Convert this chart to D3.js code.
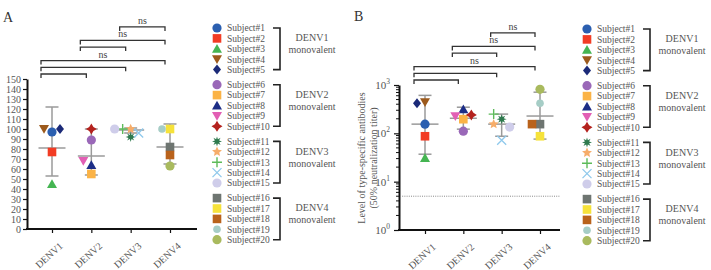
<!DOCTYPE html>
<html>
<head>
<meta charset="utf-8">
<script src="https://cdn.jsdelivr.net/npm/d3@7"></script>
<style>
  body { margin: 0; background: #fff; }
  svg text { font-family: "Liberation Serif", "DejaVu Serif", serif; }
</style>
</head>
<body>
<svg id="chart" width="711" height="270"></svg>
<script>
// ---- data ----
var groups = ['DENV1', 'DENV2', 'DENV3', 'DENV4'];
var subjects = d3.range(1, 21).map(i => 'Subject#' + i);
// panel A: % neutralization, one value per subject (subjects 1-5 -> DENV1, 6-10 -> DENV2 ...)
var neutPct = [97, 77, 45, 100, 100, 89, 55, 64, 68, 100, 92, 100, 100, 96, 100, 82, 100, 74, 100, 63];
var pctMean = [81, 73, 99, 82];
var pctLow = [53, 54, 96, 65];
var pctHigh = [122, 100, 101, 105];
// panel B: type-specific titer (NT50)
var titer = [155, 87, 31, 440, 420, 111, 196, 316, 227, 240, 196, 155, 250, 72, 135, 155, 87, 155, 420, 815];
var titerMean = [155, 205, 155, 228];
var titerLow = [37, 122, 87, 76];
var titerHigh = [610, 347, 250, 710];
var detectLimit = 5;
var pctTicks = d3.range(0, 151, 10);
var titerTicks = [1, 10, 100, 1000];
// pairwise comparisons and their labels
var comparisons = [[0, 1], [0, 2], [0, 3], [1, 2], [1, 3], [2, 3]];
var compLabels = ['', '', 'ns', '', 'ns', 'ns'];
var legendGroups = ['DENV1', 'DENV2', 'DENV3', 'DENV4'];

// ---- styles ----
var colors = ['#2b5fb0', '#f23c24', '#45b552', '#9c5a1c', '#1b2a78',
  '#9a68b8', '#fbb346', '#1c2d86', '#e25fb4', '#b4221e',
  '#2f7a4e', '#f6ad6a', '#5dbb5a', '#8fc9ec', '#cfcdea',
  '#6e7571', '#f6e23a', '#b9621b', '#a6cdc6', '#a9ba5e'];
var shapes = ['circle', 'square', 'triUp', 'triDown', 'diamond',
  'circle', 'square', 'triUp', 'triDown', 'star4',
  'star8', 'star5', 'plus', 'times', 'circle',
  'square', 'square', 'square', 'circle', 'circle'];

var svg = d3.select('#chart');

function star(points, r, ri) {
  var pts = [];
  for (var k = 0; k < points * 2; k++) {
    var a = Math.PI * k / points - Math.PI / 2;
    var rr = k % 2 ? ri : r;
    pts.push([Math.cos(a) * rr, Math.sin(a) * rr]);
  }
  return 'M' + pts.join('L') + 'Z';
}

function addMarker(sel, i, cx, cy) {
  var s = shapes[i], c = colors[i];
  var m;
  if (s == 'circle') {
    m = sel.append('circle').attr('r', i == 18 ? 3.8 : 4.6).attr('fill', c);
  } else if (s == 'square') {
    m = sel.append('rect').attr('x', -4.3).attr('y', -4.3).attr('width', 8.6).attr('height', 8.6).attr('fill', c);
  } else if (s == 'triUp') {
    m = sel.append('path').attr('d', 'M0,-4.8L5,4L-5,4Z').attr('fill', c);
  } else if (s == 'triDown') {
    m = sel.append('path').attr('d', 'M0,4.8L5,-4L-5,-4Z').attr('fill', c);
  } else if (s == 'diamond') {
    m = sel.append('path').attr('d', 'M0,-5L4,0L0,5L-4,0Z').attr('fill', c);
  } else if (s == 'star4') {
    m = sel.append('path').attr('d', star(4, 5.5, 3)).attr('fill', c);
  } else if (s == 'star8') {
    m = sel.append('path').attr('d', star(8, 5, 2.3)).attr('fill', c);
  } else if (s == 'star5') {
    m = sel.append('path').attr('d', star(5, 5.2, 2.4)).attr('fill', c);
  } else if (s == 'plus') {
    m = sel.append('path').attr('d', 'M-5,0H5M0,-5V5').attr('stroke', c).attr('stroke-width', 1.4).attr('fill', 'none');
  } else {
    m = sel.append('path').attr('d', 'M-4.5,-4.5L4.5,4.5M4.5,-4.5L-4.5,4.5').attr('stroke', c).attr('stroke-width', 1.3).attr('fill', 'none');
  }
  m.attr('transform', 'translate(' + [cx, cy] + ')');
}

// keep markers of one column from sitting on top of each other
function dodge(idx, vals, y, xc, step) {
  var placed = [];
  idx.forEach(i => {
    var yy = y(vals[i]);
    var offs = [0, -1, 1, -2, 2];
    for (var k = 0; k < offs.length; k++) {
      var xx = xc + offs[k] * step;
      if (!placed.some(p => Math.abs(p.y - yy) < 8 && Math.abs(p.x - xx) < 7)) {
        placed.push({ i: i, x: xx, y: yy });
        break;
      }
    }
  });
  return placed;
}

function drawPanel(p) {
  var g = svg.append('g');
  var x = d3.scalePoint().domain(groups).range(p.xRange);
  var y = p.y;
  var bottom = y.range()[0], top = y.range()[1];

  g.append('text').text(p.letter)
    .attr('x', p.letterPos[0]).attr('y', p.letterPos[1])
    .attr('font-size', 14).attr('fill', '#333');

  // y axis
  var yAxis = g.append('g')
    .attr('transform', 'translate(' + p.axisX + ',0)')
    .call(p.yAxis)
    .call(a => {
      a.select('.domain').attr('stroke', '#111').attr('stroke-width', 2);
      a.selectAll('.tick line').attr('stroke', '#111').attr('stroke-width', 1.2);
      a.selectAll('.tick text').attr('fill', '#555').attr('font-size', p.log ? 11 : 10)
        .attr('font-family', '"Liberation Serif", serif');
    });
  if (p.log) {
    yAxis.selectAll('.tick text').each(function(d) {
      var t = d3.select(this).text('');
      t.append('tspan').text('10');
      t.append('tspan').text(Math.round(Math.log10(d))).attr('dy', -5).attr('font-size', 7.5);
    });
    var minor = [];
    titerTicks.slice(0, -1).forEach(d => d3.range(2, 10).forEach(m => minor.push(d * m)));
    g.append('g').selectAll('line').data(minor).enter().append('line')
      .attr('x1', p.axisX - 3).attr('x2', p.axisX)
      .attr('y1', d => y(d)).attr('y2', d => y(d))
      .attr('stroke', '#111').attr('stroke-width', 1);
    g.append('line')
      .attr('x1', p.axisX + 1).attr('x2', p.xEnd)
      .attr('y1', y(detectLimit)).attr('y2', y(detectLimit))
      .attr('stroke', '#888').attr('stroke-width', 1).attr('stroke-dasharray', '1,1.2');
    var tt = g.append('text')
      .attr('transform', 'translate(' + p.titlePos + ') rotate(-90)')
      .attr('text-anchor', 'middle').attr('fill', '#555').attr('font-size', 10);
    tt.append('tspan').attr('x', 0).attr('dy', 0).text('Level of type-specific antibodies');
    tt.append('tspan').attr('x', 0).attr('dy', 11.5).text('(50% neutralization titer)');
  }

  // x axis
  g.append('g')
    .attr('transform', 'translate(0,' + bottom + ')')
    .call(d3.axisBottom(x).tickSize(4).tickSizeOuter(0))
    .call(a => {
      a.select('.domain').remove();
      a.selectAll('.tick line').attr('stroke', '#111').attr('stroke-width', 1.2);
      a.selectAll('.tick text')
        .attr('text-anchor', 'end')
        .attr('font-size', 10).attr('fill', '#555')
        .attr('font-family', '"Liberation Serif", serif')
        .attr('dy', '0.35em')
        .attr('transform', 'translate(4,10) rotate(-42)');
    });
  g.append('line')
    .attr('x1', p.axisX - 1).attr('x2', p.xEnd)
    .attr('y1', bottom).attr('y2', bottom)
    .attr('stroke', '#111').attr('stroke-width', 2);

  // mean and error bars
  var bars = g.append('g').attr('stroke', '#9a9a9a').attr('stroke-width', 1.5);
  groups.forEach((gr, j) => {
    var xc = x(gr);
    bars.append('line').attr('x1', xc).attr('x2', xc).attr('y1', y(p.low[j])).attr('y2', y(p.high[j]));
    bars.append('line').attr('x1', xc - 6.5).attr('x2', xc + 6.5).attr('y1', y(p.low[j])).attr('y2', y(p.low[j]));
    bars.append('line').attr('x1', xc - 6.5).attr('x2', xc + 6.5).attr('y1', y(p.high[j])).attr('y2', y(p.high[j]));
    bars.append('line').attr('x1', xc - 13.5).attr('x2', xc + 13.5).attr('y1', y(p.mean[j])).attr('y2', y(p.mean[j]));
  });

  // subject points
  var pts = g.append('g');
  groups.forEach((gr, j) => {
    var idx = d3.range(j * 5, j * 5 + 5);
    dodge(idx, p.values, y, x(gr), 8).forEach(d => addMarker(pts, d.i, d.x, d.y));
  });

  // comparison brackets
  var br = g.append('g');
  var by = top - 5;
  comparisons.forEach((c, k) => {
    if (k > 0) by -= 6.7 + (compLabels[k - 1] ? 6.8 : 0);
    var x1 = x(groups[c[0]]) - 11, x2 = x(groups[c[1]]) - 5;
    br.append('path')
      .attr('d', 'M' + x1 + ',' + (by + 4) + 'V' + by + 'H' + x2 + 'V' + (by + 4))
      .attr('fill', 'none').attr('stroke', '#333').attr('stroke-width', 1.3);
    if (compLabels[k]) {
      br.append('text').text(compLabels[k])
        .attr('x', (x1 + x2) / 2).attr('y', by - 3)
        .attr('text-anchor', 'middle').attr('font-size', 10).attr('fill', '#444');
    }
  });

  // legend
  var lg = g.append('g');
  legendGroups.forEach((gr, j) => {
    var y0 = p.legendY + j * 56.7;
    d3.range(5).forEach(r => {
      var i = j * 5 + r, yy = y0 + r * 10.4;
      addMarker(lg, i, p.legendX, yy);
      lg.append('text').text(subjects[i])
        .attr('x', p.legendX + 10).attr('y', yy + 3.3)
        .attr('font-size', 9.5).attr('fill', '#555');
    });
    var y1 = y0 + 4 * 10.4;
    lg.append('path')
      .attr('d', 'M' + (p.bracketX - 7) + ',' + y0 + 'H' + p.bracketX + 'V' + y1 + 'H' + (p.bracketX - 7))
      .attr('fill', 'none').attr('stroke', '#222').attr('stroke-width', 1.6);
    var mid = (y0 + y1) / 2 - 5;
    lg.append('text').text(gr)
      .attr('x', p.bracketX + 32).attr('y', mid - 2.5)
      .attr('text-anchor', 'middle').attr('font-size', 10).attr('fill', '#555');
    lg.append('text').text('monovalent')
      .attr('x', p.bracketX + 32).attr('y', mid + 9.5)
      .attr('text-anchor', 'middle').attr('font-size', 10).attr('fill', '#555');
  });
}

var yA = d3.scaleLinear().domain([0, 150]).range([229, 79]);
drawPanel({
  letter: 'A', letterPos: [3, 22],
  xRange: [52, 170], axisX: 27, xEnd: 197, y: yA,
  yAxis: d3.axisLeft(yA).tickValues(pctTicks).tickSize(4).tickSizeOuter(0).tickPadding(2),
  values: neutPct, mean: pctMean, low: pctLow, high: pctHigh,
  legendX: 217, legendY: 28, bracketX: 280
});

var yB = d3.scaleLog().domain([1, 1000]).range([230, 85]);
drawPanel({
  letter: 'B', letterPos: [354, 21], log: true, titlePos: [365, 158],
  xRange: [425, 540], axisX: 399, xEnd: 560, y: yB,
  yAxis: d3.axisLeft(yB).tickValues(titerTicks).tickSize(5).tickSizeOuter(0).tickPadding(4),
  values: titer, mean: titerMean, low: titerLow, high: titerHigh,
  legendX: 587, legendY: 29, bracketX: 650
});
</script>
</body>
</html>
